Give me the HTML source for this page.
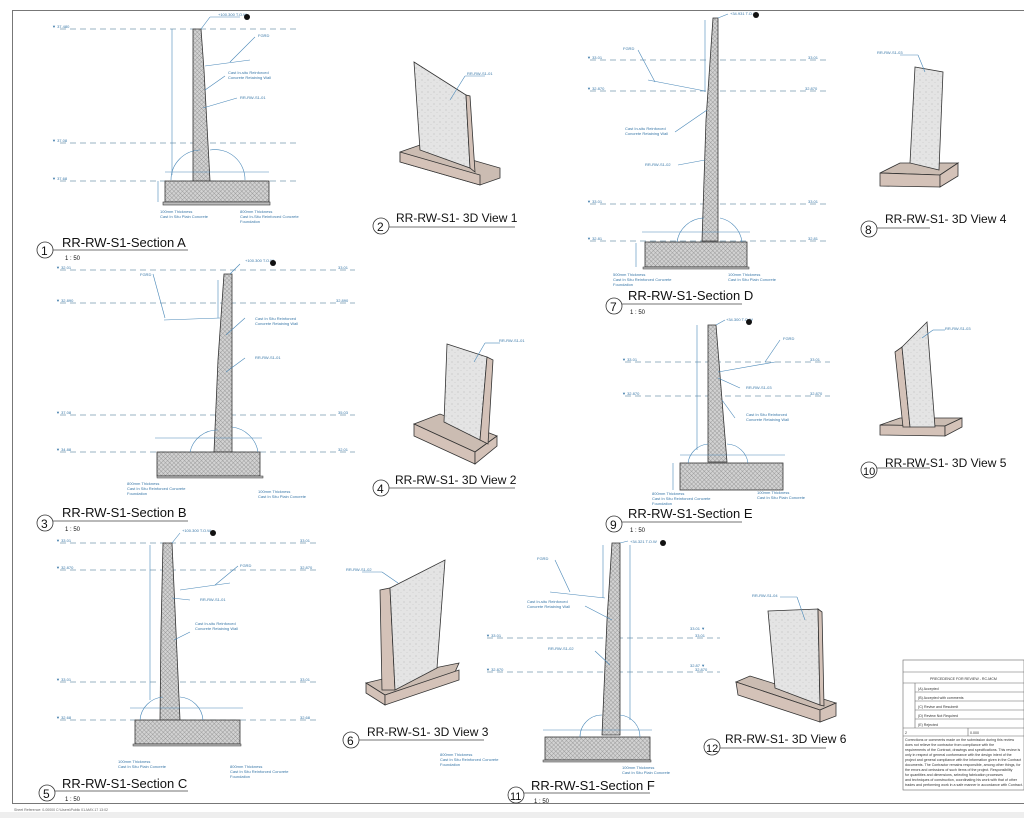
<!DOCTYPE html>
<html><head><meta charset="utf-8"><style>
html,body{margin:0;padding:0;background:#fff;width:1024px;height:818px;overflow:hidden}
svg{display:block}
.t{font-family:"Liberation Sans",sans-serif;fill:#111}
.s{font-family:"Liberation Sans",sans-serif;font-size:4px;fill:#3a78a8}
.lv{stroke:#7a9ab0;stroke-width:0.8;stroke-dasharray:6 4;fill:none}
.dm{stroke:#4a88b8;stroke-width:0.6;fill:none}
.h{fill:url(#hx);stroke:#333;stroke-width:0.8}
.w{fill:#e2e2e2;stroke:#333;stroke-width:0.8}
.f{fill:#d4c2b8;stroke:#333;stroke-width:0.8}
.ft{fill:#cbbcb2;stroke:#333;stroke-width:0.8}
</style></head><body>
<svg width="1024" height="818" viewBox="0 0 1024 818" xmlns="http://www.w3.org/2000/svg">
<defs>
<pattern id="hx" width="3" height="3" patternUnits="userSpaceOnUse" patternTransform="rotate(45)">
<rect width="3" height="3" fill="#d2d2d2"/>
<path d="M0 0H3M0 0V3" stroke="#8a8a8a" stroke-width="0.7"/>
</pattern>
<pattern id="dt" width="6" height="6" patternUnits="userSpaceOnUse">
<rect width="6" height="6" fill="#e4e4e4"/><circle cx="2" cy="2" r="0.5" fill="#aaa"/><circle cx="5" cy="4.5" r="0.4" fill="#bbb"/>
</pattern>
</defs>
<rect x="0" y="0" width="1024" height="818" fill="#fff"/>
<rect x="12.5" y="10.5" width="1020" height="793" fill="none" stroke="#777" stroke-width="1"/>
<rect x="0" y="812" width="1024" height="6" fill="#eee"/>
<text class="s" x="14" y="811" style="fill:#666;font-size:3.5px">Sheet Reference: 0-00000  C:\Users\Public  01-MAY-17 13:02</text>

<!-- ===== Section A ===== -->
<g>
<line class="lv" x1="60" y1="29" x2="300" y2="29"/>
<line class="lv" x1="60" y1="143" x2="300" y2="143"/>
<line class="lv" x1="60" y1="181" x2="300" y2="181"/>
<text class="s" x="52" y="28">▼ 37.480</text><text class="s" x="52" y="142">▼ 37.08</text><text class="s" x="52" y="180">▼ 37.68</text>
<polygon class="h" points="193,29 201,29 204,70 210,181 193,181"/>
<rect class="h" x="165" y="181" width="104" height="21"/>
<rect x="163" y="202" width="107" height="3" fill="#bbb" stroke="#333" stroke-width="0.6"/>
<line class="dm" x1="172" y1="29" x2="172" y2="175"/><line class="dm" x1="158" y1="181" x2="158" y2="202"/>
<line class="dm" x1="165" y1="172" x2="269" y2="172"/>
<path class="dm" d="M171 180 A30 30 0 0 1 200 150"/><path class="dm" d="M210 150 A30 30 0 0 1 245 180"/>
<line class="dm" x1="201" y1="29" x2="210" y2="17"/><line class="dm" x1="210" y1="17" x2="240" y2="17"/>
<text class="s" x="218" y="16">+100.300 T.O.W</text><circle cx="247" cy="17" r="3" fill="#111"/>
<line class="dm" x1="205" y1="66" x2="250" y2="60"/><line class="dm" x1="230" y1="62" x2="255" y2="37"/><text class="s" x="258" y="37">FGRD</text>
<line class="dm" x1="205" y1="90" x2="225" y2="76"/><text class="s" x="228" y="74">Cast In-situ Reinforced</text><text class="s" x="228" y="79">Concrete Retaining Wall</text>
<line class="dm" x1="203" y1="108" x2="237" y2="98"/><text class="s" x="240" y="99">RR-RW-S1-01</text>
<text class="s" x="160" y="213">100mm Thickness</text><text class="s" x="160" y="218">Cast In Situ Plain Concrete</text>
<text class="s" x="240" y="213">800mm Thickness</text><text class="s" x="240" y="218">Cast In-Situ Reinforced Concrete</text><text class="s" x="240" y="223">Foundation</text>
<circle cx="45" cy="250" r="8" fill="#fff" stroke="#333" stroke-width="0.8"/><text class="t" x="41" y="255" font-size="12">1</text>
<line x1="53" y1="250" x2="188" y2="250" stroke="#444" stroke-width="0.8"/>
<text class="t" x="62" y="247" font-size="13">RR-RW-S1-Section A</text><text class="t" x="65" y="260" font-size="6">1 : 50</text>
</g>

<!-- ===== 3D View 1 ===== -->
<g>
<polygon class="ft" points="400,152 420,145 500,168 500,178 480,185 400,162"/>
<polygon class="f" points="400,152 480,175 480,185 400,162"/>
<polygon class="w" points="414,62 466,95 470,168 420,150" style="fill:url(#dt)"/>
<polygon class="f" points="466,95 470,96 475,172 470,168"/>
<line class="dm" x1="450" y1="100" x2="465" y2="76"/><line class="dm" x1="465" y1="76" x2="485" y2="76"/><text class="s" x="467" y="75">RR-RW-S1-01</text>
<circle cx="381" cy="226" r="8" fill="#fff" stroke="#333" stroke-width="0.8"/><text class="t" x="377" y="231" font-size="12">2</text>
<line x1="389" y1="227" x2="515" y2="227" stroke="#444" stroke-width="0.8"/>
<text class="t" x="396" y="222" font-size="12">RR-RW-S1- 3D View 1</text>
</g>

<!-- ===== Section B ===== -->
<g>
<line class="lv" x1="60" y1="270" x2="355" y2="270"/>
<line class="lv" x1="60" y1="303" x2="355" y2="303"/>
<line class="lv" x1="60" y1="415" x2="355" y2="415"/>
<line class="lv" x1="60" y1="452" x2="355" y2="452"/>
<text class="s" x="56" y="269">▼ 32.01</text><text class="s" x="56" y="302">▼ 32.890</text><text class="s" x="56" y="414">▼ 37.08</text><text class="s" x="56" y="451">▼ 34.88</text>
<text class="s" x="338" y="269">33.01</text><text class="s" x="336" y="302">32.890</text><text class="s" x="338" y="414">35.03</text><text class="s" x="338" y="451">32.01</text>
<polygon class="h" points="224,274 232,274 232,452 214,452 218,360"/>
<rect class="h" x="157" y="452" width="103" height="24"/>
<rect x="157" y="476" width="106" height="2" fill="#bbb" stroke="#333" stroke-width="0.5"/>
<line class="dm" x1="218" y1="280" x2="218" y2="318"/>
<path class="dm" d="M190 452 A28 28 0 0 1 218 430"/><path class="dm" d="M232 427 A30 30 0 0 1 258 452"/>
<line class="dm" x1="155" y1="438" x2="262" y2="438"/>
<line class="dm" x1="164" y1="320" x2="220" y2="318"/><line class="dm" x1="165" y1="318" x2="153" y2="274"/>
<text class="s" x="140" y="276">FGRD</text>
<line class="dm" x1="226" y1="335" x2="245" y2="318"/><text class="s" x="255" y="320">Cast In Situ Reinforced</text><text class="s" x="255" y="325">Concrete Retaining Wall</text>
<line class="dm" x1="226" y1="372" x2="245" y2="358"/><text class="s" x="255" y="359">RR-RW-S1-01</text>
<text class="s" x="127" y="485">800mm Thickness</text><text class="s" x="127" y="490">Cast In Situ Reinforced Concrete</text><text class="s" x="127" y="495">Foundation</text>
<text class="s" x="258" y="493">100mm Thickness</text><text class="s" x="258" y="498">Cast In Situ Plain Concrete</text>
<line class="dm" x1="230" y1="274" x2="240" y2="264"/><text class="s" x="245" y="262">+100.300 T.O.W</text><circle cx="273" cy="263" r="3" fill="#111"/>
<circle cx="45" cy="523" r="8" fill="#fff" stroke="#333" stroke-width="0.8"/><text class="t" x="41" y="528" font-size="12">3</text>
<line x1="53" y1="521" x2="188" y2="521" stroke="#444" stroke-width="0.8"/>
<text class="t" x="62" y="517" font-size="13">RR-RW-S1-Section B</text><text class="t" x="65" y="531" font-size="6">1 : 50</text>
</g>

<!-- ===== 3D View 2 ===== -->
<g>
<polygon class="ft" points="414,424 440,414 497,436 475,452"/>
<polygon class="f" points="414,424 475,452 475,464 414,436"/>
<polygon class="f" points="475,452 497,436 497,446 475,464"/>
<polygon class="w" points="447,344 487,357 480,440 444,422" style="fill:url(#dt)"/>
<polygon class="f" points="487,357 493,360 488,444 480,440"/>
<line class="dm" x1="474" y1="362" x2="485" y2="343"/><line class="dm" x1="485" y1="343" x2="500" y2="343"/><text class="s" x="499" y="342">RR-RW-S1-01</text>
<circle cx="381" cy="488" r="8" fill="#fff" stroke="#333" stroke-width="0.8"/><text class="t" x="377" y="493" font-size="12">4</text>
<line x1="389" y1="488" x2="515" y2="488" stroke="#444" stroke-width="0.8"/>
<text class="t" x="395" y="484" font-size="12">RR-RW-S1- 3D View 2</text>
</g>

<!-- ===== Section C ===== -->
<g>
<line class="lv" x1="60" y1="543" x2="320" y2="543"/>
<line class="lv" x1="60" y1="570" x2="320" y2="570"/>
<line class="lv" x1="60" y1="682" x2="320" y2="682"/>
<line class="lv" x1="60" y1="720" x2="320" y2="720"/>
<text class="s" x="56" y="542">▼ 33.01</text><text class="s" x="56" y="569">▼ 32.870</text><text class="s" x="56" y="681">▼ 33.01</text><text class="s" x="56" y="719">▼ 32.68</text>
<text class="s" x="300" y="542">33.01</text><text class="s" x="300" y="569">32.870</text><text class="s" x="300" y="681">33.01</text><text class="s" x="300" y="719">32.68</text>
<polygon class="h" points="163,543 172,543 180,720 160,720 161,630"/>
<rect class="h" x="135" y="720" width="105" height="24"/>
<rect x="133" y="744" width="108" height="2" fill="#bbb" stroke="#333" stroke-width="0.5"/>
<line class="dm" x1="150" y1="545" x2="150" y2="700"/>
<path class="dm" d="M140 720 A25 25 0 0 1 163 697"/><path class="dm" d="M180 697 A25 25 0 0 1 203 720"/>
<line class="dm" x1="130" y1="708" x2="243" y2="708"/>
<line class="dm" x1="180" y1="590" x2="230" y2="583"/><line class="dm" x1="215" y1="585" x2="238" y2="566"/><text class="s" x="240" y="567">FGRD</text>
<line class="dm" x1="172" y1="598" x2="190" y2="600"/><text class="s" x="200" y="601">RR-RW-S1-01</text>
<line class="dm" x1="174" y1="640" x2="190" y2="632"/><text class="s" x="195" y="625">Cast In-situ Reinforced</text><text class="s" x="195" y="630">Concrete Retaining Wall</text>
<text class="s" x="118" y="763">100mm Thickness</text><text class="s" x="118" y="768">Cast In Situ Plain Concrete</text>
<text class="s" x="230" y="768">800mm Thickness</text><text class="s" x="230" y="773">Cast In Situ Reinforced Concrete</text><text class="s" x="230" y="778">Foundation</text>
<line class="dm" x1="172" y1="543" x2="180" y2="533"/><text class="s" x="182" y="532">+100.300 T.O.W</text><circle cx="213" cy="533" r="3" fill="#111"/>
<circle cx="47" cy="793" r="8" fill="#fff" stroke="#333" stroke-width="0.8"/><text class="t" x="43" y="798" font-size="12">5</text>
<line x1="55" y1="791" x2="188" y2="791" stroke="#444" stroke-width="0.8"/>
<text class="t" x="62" y="788" font-size="13">RR-RW-S1-Section C</text><text class="t" x="65" y="801" font-size="6">1 : 50</text>
</g>

<!-- ===== 3D View 3 ===== -->
<g>
<polygon class="ft" points="366,683 395,676 459,663 455,672 385,695"/>
<polygon class="f" points="366,683 385,695 385,705 366,693"/>
<polygon class="f" points="385,695 459,670 459,680 385,705"/>
<polygon class="f" points="380,590 390,588 395,690 382,690"/>
<polygon class="w" points="390,588 445,560 437,668 395,690" style="fill:url(#dt)"/>
<line class="dm" x1="398" y1="583" x2="382" y2="572"/><line class="dm" x1="382" y1="572" x2="362" y2="572"/><text class="s" x="346" y="571">RR-RW-S1-02</text>
<circle cx="351" cy="740" r="8" fill="#fff" stroke="#333" stroke-width="0.8"/><text class="t" x="347" y="745" font-size="12">6</text>
<line x1="359" y1="740" x2="484" y2="740" stroke="#444" stroke-width="0.8"/>
<text class="t" x="367" y="736" font-size="12">RR-RW-S1- 3D View 3</text>
</g>

<!-- ===== Section D ===== -->
<g>
<line class="lv" x1="590" y1="60" x2="830" y2="60"/>
<line class="lv" x1="590" y1="91" x2="830" y2="91"/>
<line class="lv" x1="590" y1="204" x2="830" y2="204"/>
<line class="lv" x1="590" y1="241" x2="830" y2="241"/>
<text class="s" x="587" y="59">▼ 33.01</text><text class="s" x="587" y="90">▼ 32.870</text><text class="s" x="587" y="203">▼ 33.01</text><text class="s" x="587" y="240">▼ 32.81</text>
<text class="s" x="808" y="59">33.01</text><text class="s" x="805" y="90">32.870</text><text class="s" x="808" y="203">33.01</text><text class="s" x="808" y="240">32.81</text>
<polygon class="h" points="713,18 718,18 718,241 702,241 706,120"/>
<rect class="h" x="645" y="242" width="102" height="25"/>
<rect x="643" y="267" width="106" height="2" fill="#bbb" stroke="#333" stroke-width="0.5"/>
<line class="dm" x1="705" y1="20" x2="705" y2="92"/>
<path class="dm" d="M677 242 A28 28 0 0 1 704 218"/><path class="dm" d="M720 218 A28 28 0 0 1 742 242"/>
<line class="dm" x1="642" y1="232" x2="750" y2="232"/><line class="dm" x1="636" y1="243" x2="636" y2="267"/>
<line class="dm" x1="648" y1="80" x2="705" y2="91"/><line class="dm" x1="655" y1="82" x2="638" y2="50"/><text class="s" x="623" y="50">FGRD</text>
<line class="dm" x1="707" y1="110" x2="675" y2="132"/><text class="s" x="625" y="130">Cast In-situ Reinforced</text><text class="s" x="625" y="135">Concrete Retaining Wall</text>
<line class="dm" x1="705" y1="160" x2="678" y2="165"/><text class="s" x="645" y="166">RR-RW-S1-02</text>
<text class="s" x="613" y="276">500mm Thickness</text><text class="s" x="613" y="281">Cast In Situ Reinforced Concrete</text><text class="s" x="613" y="286">Foundation</text>
<text class="s" x="728" y="276">100mm Thickness</text><text class="s" x="728" y="281">Cast In Situ Plain Concrete</text>
<line class="dm" x1="718" y1="18" x2="728" y2="14"/><text class="s" x="730" y="15">+34.931 T.O.W</text><circle cx="756" cy="15" r="3" fill="#111"/>
<circle cx="614" cy="306" r="8" fill="#fff" stroke="#333" stroke-width="0.8"/><text class="t" x="610" y="311" font-size="12">7</text>
<line x1="622" y1="304" x2="742" y2="304" stroke="#444" stroke-width="0.8"/>
<text class="t" x="628" y="300" font-size="13">RR-RW-S1-Section D</text><text class="t" x="630" y="314" font-size="6">1 : 50</text>
</g>

<!-- ===== 3D View 4 ===== -->
<g>
<polygon class="ft" points="880,173 900,163 958,163 940,175"/>
<polygon class="f" points="880,173 940,175 940,187 880,186"/>
<polygon class="f" points="940,175 958,163 958,176 940,187"/>
<polygon class="w" points="915,67 943,72 939,170 910,163" style="fill:url(#dt)"/>
<line class="dm" x1="925" y1="72" x2="918" y2="55"/><line class="dm" x1="918" y1="55" x2="900" y2="55"/><text class="s" x="877" y="54">RR-RW-S1-03</text>
<circle cx="869" cy="229" r="8" fill="#fff" stroke="#333" stroke-width="0.8"/><text class="t" x="865" y="234" font-size="12">8</text>
<line x1="877" y1="228" x2="930" y2="228" stroke="#444" stroke-width="0.8"/>
<text class="t" x="885" y="223" font-size="12">RR-RW-S1- 3D View 4</text>
</g>

<!-- ===== Section E ===== -->
<g>
<line class="lv" x1="625" y1="362" x2="830" y2="362"/>
<line class="lv" x1="625" y1="396" x2="830" y2="396"/>
<text class="s" x="622" y="361">▼ 33.01</text><text class="s" x="622" y="395">▼ 32.870</text>
<text class="s" x="810" y="361">33.01</text><text class="s" x="810" y="395">32.870</text>
<polygon class="h" points="708,325 716,325 727,462 708,462"/>
<rect class="h" x="680" y="463" width="103" height="27"/>
<line class="dm" x1="697" y1="325" x2="697" y2="450"/>
<path class="dm" d="M688 463 A22 22 0 0 1 708 444"/><path class="dm" d="M727 444 A22 22 0 0 1 748 463"/>
<line class="dm" x1="680" y1="455" x2="785" y2="455"/><line class="dm" x1="673" y1="463" x2="673" y2="490"/>
<line class="dm" x1="718" y1="372" x2="775" y2="362"/><line class="dm" x1="765" y1="362" x2="780" y2="340"/><text class="s" x="783" y="340">FGRD</text>
<line class="dm" x1="718" y1="378" x2="740" y2="388"/><text class="s" x="746" y="389">RR-RW-S1-03</text>
<line class="dm" x1="722" y1="400" x2="735" y2="418"/><text class="s" x="746" y="416">Cast In Situ Reinforced</text><text class="s" x="746" y="421">Concrete Retaining Wall</text>
<text class="s" x="652" y="495">800mm Thickness</text><text class="s" x="652" y="500">Cast In Situ Reinforced Concrete</text><text class="s" x="652" y="505">Foundation</text>
<text class="s" x="757" y="494">100mm Thickness</text><text class="s" x="757" y="499">Cast In Situ Plain Concrete</text>
<line class="dm" x1="716" y1="325" x2="725" y2="320"/><text class="s" x="726" y="321">+34.300 T.O.W</text><circle cx="749" cy="322" r="3" fill="#111"/>
<circle cx="614" cy="524" r="8" fill="#fff" stroke="#333" stroke-width="0.8"/><text class="t" x="610" y="529" font-size="12">9</text>
<line x1="622" y1="522" x2="742" y2="522" stroke="#444" stroke-width="0.8"/>
<text class="t" x="628" y="518" font-size="13">RR-RW-S1-Section E</text><text class="t" x="630" y="532" font-size="6">1 : 50</text>
</g>

<!-- ===== 3D View 5 ===== -->
<g>
<polygon class="ft" points="880,425 900,418 962,418 945,426"/>
<polygon class="f" points="880,425 945,426 945,436 880,435"/>
<polygon class="f" points="945,426 962,418 962,427 945,436"/>
<polygon class="f" points="895,352 902,347 910,427 903,427"/>
<polygon class="w" points="902,347 927,322 935,427 910,427" style="fill:url(#dt)"/>
<line class="dm" x1="922" y1="338" x2="933" y2="330"/><line class="dm" x1="933" y1="330" x2="945" y2="330"/><text class="s" x="945" y="330">RR-RW-S1-03</text>
<circle cx="869" cy="470" r="8" fill="#fff" stroke="#333" stroke-width="0.8"/><text class="t" x="863" y="475" font-size="11">10</text>
<line x1="877" y1="468" x2="930" y2="468" stroke="#444" stroke-width="0.8"/>
<text class="t" x="885" y="467" font-size="12">RR-RW-S1- 3D View 5</text>
</g>

<!-- ===== Section F ===== -->
<g>
<line class="lv" x1="487" y1="638" x2="720" y2="638"/>
<line class="lv" x1="487" y1="672" x2="720" y2="672"/>
<text class="s" x="486" y="637">▼ 33.01</text><text class="s" x="486" y="671">▼ 32.870</text>
<text class="s" x="695" y="637">33.01</text><text class="s" x="695" y="671">32.870</text>
<polygon class="h" points="612,543 620,543 620,735 602,735 607,620"/>
<rect class="h" x="545" y="737" width="105" height="23"/>
<rect x="543" y="760" width="108" height="2" fill="#bbb" stroke="#333" stroke-width="0.5"/>
<line class="dm" x1="603" y1="545" x2="603" y2="598"/><line class="dm" x1="630" y1="545" x2="630" y2="720"/>
<path class="dm" d="M580 737 A22 22 0 0 1 602 715"/><path class="dm" d="M620 715 A22 22 0 0 1 640 737"/>
<line class="dm" x1="543" y1="730" x2="652" y2="730"/>
<line class="dm" x1="550" y1="592" x2="605" y2="598"/><line class="dm" x1="570" y1="592" x2="555" y2="560"/><text class="s" x="537" y="560">FGRD</text>
<line class="dm" x1="612" y1="620" x2="585" y2="606"/><text class="s" x="527" y="603">Cast In-situ Reinforced</text><text class="s" x="527" y="608">Concrete Retaining Wall</text>
<line class="dm" x1="610" y1="665" x2="595" y2="651"/><text class="s" x="548" y="650">RR-RW-S1-02</text>
<text class="s" x="440" y="756">800mm Thickness</text><text class="s" x="440" y="761">Cast In Situ Reinforced Concrete</text><text class="s" x="440" y="766">Foundation</text>
<text class="s" x="622" y="769">100mm Thickness</text><text class="s" x="622" y="774">Cast In Situ Plain Concrete</text>
<line class="dm" x1="620" y1="543" x2="628" y2="541"/><text class="s" x="630" y="543">+34.321 T.O.W</text><circle cx="663" cy="543" r="3" fill="#111"/>
<circle cx="516" cy="795" r="8" fill="#fff" stroke="#333" stroke-width="0.8"/><text class="t" x="510" y="800" font-size="11">11</text>
<line x1="524" y1="793" x2="650" y2="793" stroke="#444" stroke-width="0.8"/>
<text class="t" x="531" y="790" font-size="13">RR-RW-S1-Section F</text><text class="t" x="534" y="803" font-size="6">1 : 50</text>
</g>

<!-- ===== 3D View 6 ===== -->
<g>
<polygon class="ft" points="736,682 750,676 836,703 820,710"/>
<polygon class="f" points="736,682 820,710 820,722 738,695"/>
<polygon class="f" points="820,710 836,703 836,716 820,722"/>
<polygon class="w" points="768,611 818,609 820,705 775,688" style="fill:url(#dt)"/>
<polygon class="f" points="818,609 822,612 824,706 820,705"/>
<line class="dm" x1="805" y1="620" x2="797" y2="597"/><line class="dm" x1="797" y1="597" x2="780" y2="597"/><text class="s" x="752" y="597">RR-RW-S1-04</text>
<circle cx="712" cy="747" r="8" fill="#fff" stroke="#333" stroke-width="0.8"/><text class="t" x="706" y="752" font-size="11">12</text>
<line x1="720" y1="748" x2="826" y2="748" stroke="#444" stroke-width="0.8"/>
<text class="t" x="725" y="743" font-size="12">RR-RW-S1- 3D View 6</text>
<text class="s" x="690" y="630">33.01 ▼</text><text class="s" x="690" y="667">32.87 ▼</text>
</g>

<!-- ===== Title block ===== -->
<g stroke="#666" stroke-width="0.6" fill="none">
<rect x="903" y="660" width="121" height="130"/>
<line x1="903" y1="672" x2="1024" y2="672"/>
<line x1="903" y1="683" x2="1024" y2="683"/>
<line x1="915" y1="683" x2="915" y2="728"/>
<line x1="915" y1="692" x2="1024" y2="692"/>
<line x1="915" y1="701" x2="1024" y2="701"/>
<line x1="915" y1="710" x2="1024" y2="710"/>
<line x1="915" y1="719" x2="1024" y2="719"/>
<line x1="903" y1="728" x2="1024" y2="728"/>
<line x1="903" y1="736" x2="1024" y2="736"/>
<line x1="968" y1="728" x2="968" y2="736"/>
</g>
<g class="s" style="fill:#333;font-size:3.6px">
<text x="930" y="680">PRECEDENCE FOR REVIEW - RC-MCM</text>
<text x="918" y="690">(A) Accepted</text>
<text x="918" y="699">(B) Accepted with comments</text>
<text x="918" y="708">(C) Revise and Resubmit</text>
<text x="918" y="717">(D) Review Not Required</text>
<text x="918" y="726">(E) Rejected</text>
<text x="905" y="734">2</text><text x="970" y="734">0.000</text>
<text x="905" y="741">Corrections or comments made on the submission during this review</text>
<text x="905" y="746">does not relieve the contractor from compliance with the</text>
<text x="905" y="751">requirements of the Contract, drawings and specifications. This review is</text>
<text x="905" y="756">only in respect of general conformance with the design intent of the</text>
<text x="905" y="761">project and general compliance with the information given in the Contract</text>
<text x="905" y="766">documents. The Contractor remains responsible, among other things, for</text>
<text x="905" y="771">the errors and omissions of such items of the project. Responsibility</text>
<text x="905" y="776">for quantities and dimensions, selecting fabrication processes</text>
<text x="905" y="781">and techniques of construction, coordinating his work with that of other</text>
<text x="905" y="786">trades and performing work in a safe manner in accordance with Contract.</text>
</g>
</svg>
</body></html>
